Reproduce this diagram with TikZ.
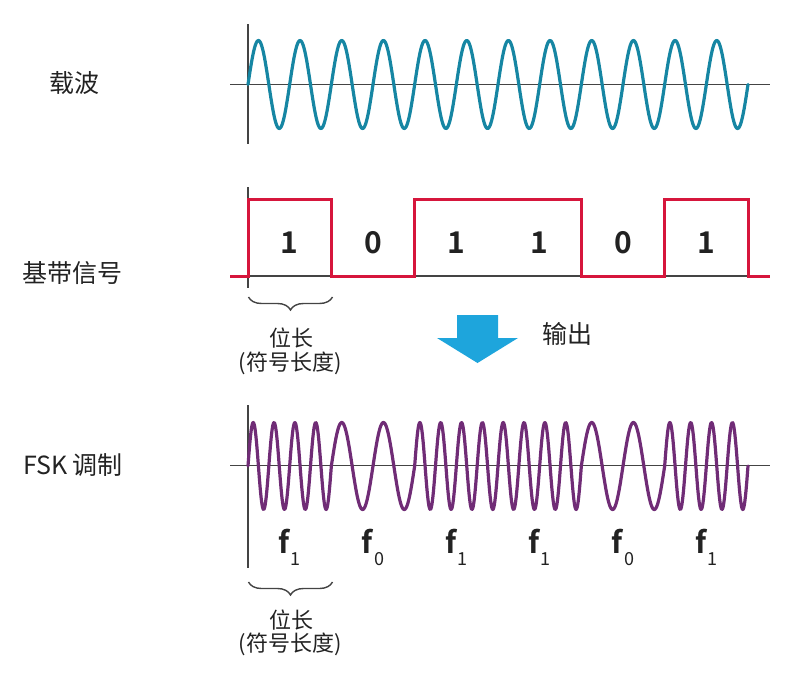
\documentclass[tikz,border=0pt]{standalone}
\usepackage{fontspec}
\newfontfamily\cjk{Noto Sans CJK SC}[BoldFont={Noto Sans CJK SC Bold}]
\setmainfont{Noto Sans CJK SC}
\usetikzlibrary{decorations.pathreplacing}
\definecolor{txt}{HTML}{222222}
\definecolor{axisc}{HTML}{444444}
\definecolor{carrierc}{RGB}{22,134,163}
\definecolor{basec}{RGB}{214,22,60}
\definecolor{fskc}{RGB}{112,44,118}
\definecolor{arrowc}{RGB}{30,165,220}
\tikzset{
  axisline/.style={draw=axisc, line width=1.4pt},
  carrier/.style={draw=carrierc, line width=3.2pt, line cap=round, line join=round},
  basesig/.style={draw=basec, line width=3pt, line join=miter},
  fskwave/.style={draw=fskc, line width=3.2pt, line cap=round, line join=round},
  sidelab/.style={font=\cjk\fontsize{25}{25}\selectfont, text=txt, inner sep=0pt},
  digit/.style={font=\cjk\bfseries\fontsize{30}{30}\selectfont, text=txt, inner sep=0pt},
  flab/.style={font=\cjk\bfseries\fontsize{30}{30}\selectfont, text=txt, inner sep=0pt, anchor=base},
  bitlab/.style={font=\cjk\fontsize{22}{22}\selectfont, text=txt, inner sep=0pt},
  bracec/.style={draw=axisc, line width=1.4pt, decorate, decoration={brace, mirror, amplitude=13pt}},
}
\newcommand{\fsub}[1]{f\kern1pt\raisebox{-12pt}{\mdseries\fontsize{18}{18}\selectfont #1}}
\begin{document}
\begin{tikzpicture}[x=1pt,y=-1pt]
\useasboundingbox (0,0) rectangle (793,675);
% side labels
\node[sidelab] (lc) at (74,83) {载波};
\node[sidelab] (lb) at (73,273) {基带信号};
\node[sidelab] (lf) at (73,465) {FSK 调制};
% carrier
\draw[axisline] (230,84.5) -- (770,84.5);
\draw[axisline] (248,24) -- (248,144);
\draw[carrier] plot[domain=0:500, samples=600, variable=\t] ({248+\t},{84.5-44*sin(\t*8.64)});
% baseband
\draw[axisline] (230,276) -- (770,276);
\draw[axisline] (248,187) -- (248,288);
\draw[basesig] (230,276) -- (248,276) -- (248,199) -- (331.3,199) -- (331.3,276) -- (414.7,276) -- (414.7,199) -- (581.3,199) -- (581.3,276) -- (664.7,276) -- (664.7,199) -- (748,199) -- (748,276) -- (770,276);
\node[digit] (d1) at (289.7,243) {1};
\node[digit] (d2) at (373,243) {0};
\node[digit] (d3) at (456.3,243) {1};
\node[digit] (d4) at (539.7,243) {1};
\node[digit] (d5) at (623,243) {0};
\node[digit] (d6) at (706.3,243) {1};
% brace 1
\draw[bracec] (248.5,297) -- (332.5,297);
\node[bitlab] (bl1) at (291,338) {位长};
\node[bitlab] (bl1b) at (290,363) {(符号长度)};
% arrow
\fill[arrowc] (457,315) -- (498,315) -- (498,338) -- (518,338) -- (477.5,363) -- (437,338) -- (457,338) -- cycle;
\node[sidelab] (out) at (567,334) {输出};
% fsk
\draw[axisline] (230,465.5) -- (770,465.5);
\draw[axisline] (248,405) -- (248,568);
\foreach \n [count=\i from 0] in {4,2,4,4,2,4} {
  \draw[fskwave] plot[domain=0:83.333, samples=160, variable=\t] ({248+83.333*\i+\t},{466-43.5*sin(\t*\n*4.32)});
}
\node[flab] (f1) at (289.7,553) {\fsub{1}};
\node[flab] (f2) at (373,553) {\fsub{0}};
\node[flab] (f3) at (456.3,553) {\fsub{1}};
\node[flab] (f4) at (539.7,553) {\fsub{1}};
\node[flab] (f5) at (623,553) {\fsub{0}};
\node[flab] (f6) at (706.3,553) {\fsub{1}};
% brace 2
\draw[bracec] (248.5,582) -- (332.5,582);
\node[bitlab] (bl2) at (291,620) {位长};
\node[bitlab] (bl2b) at (290,644) {(符号长度)};
\end{tikzpicture}
\end{document}
